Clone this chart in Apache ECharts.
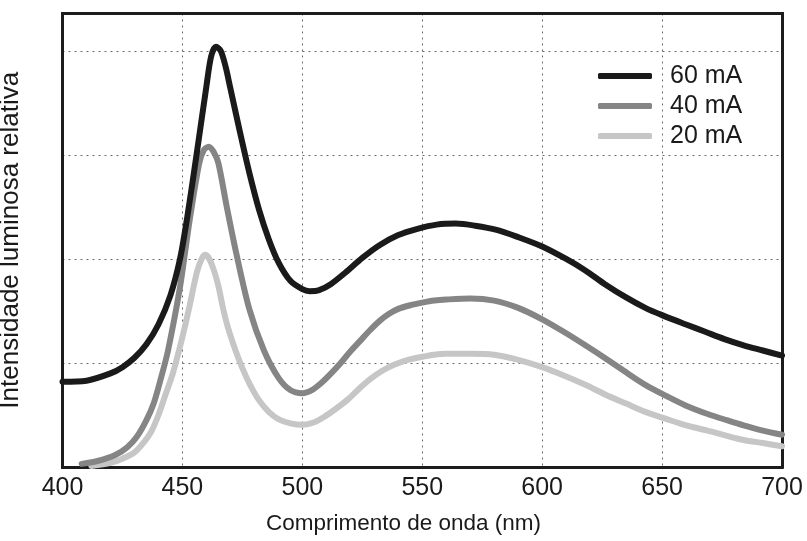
<!DOCTYPE html>
<html>
<head>
<meta charset="utf-8">
<title>Espectro de emissão</title>
<script src="https://cdn.jsdelivr.net/npm/echarts@6/dist/echarts.min.js"></script>
<style>
  html, body { margin: 0; padding: 0; background: #ffffff; }
  #chart { width: 807px; height: 541px; }
</style>
</head>
<body>
<div id="chart"></div>
<script>
// Wavelengths (nm) and relative intensities for each drive current
const wl60 = [400, 410, 420, 425, 430, 435, 440, 445, 449, 452, 456, 460, 462, 464, 466, 468, 470, 474, 478, 482, 486, 490, 495, 500, 503, 507, 512, 518, 525, 532, 540, 548, 556, 564, 572, 581, 590, 600, 610, 618, 626, 635, 643, 650, 660, 668, 676, 684, 692, 700];
const int60 = [0.82, 0.83, 0.90, 0.96, 1.05, 1.18, 1.37, 1.65, 2.00, 2.40, 3.02, 3.66, 3.95, 4.04, 4.00, 3.85, 3.64, 3.22, 2.82, 2.47, 2.19, 1.97, 1.79, 1.71, 1.69, 1.70, 1.76, 1.87, 2.01, 2.13, 2.23, 2.29, 2.33, 2.34, 2.32, 2.28, 2.21, 2.12, 2.00, 1.89, 1.76, 1.63, 1.53, 1.46, 1.37, 1.30, 1.23, 1.17, 1.12, 1.07];

const wl40 = [408, 415, 422, 427, 431, 435, 438, 441, 444, 449, 453, 457, 459, 461, 463, 465, 468.5, 472.5, 478, 484, 490, 495, 500, 504, 508, 512, 516, 520, 524, 528, 532, 536, 540, 545, 550, 555, 560, 570, 580, 590, 600, 609, 618, 626, 635, 643, 652, 660, 669, 677, 684, 692, 700];
const int40 = [0.03, 0.06, 0.115, 0.19, 0.29, 0.45, 0.61, 0.85, 1.12, 1.73, 2.37, 2.92, 3.05, 3.08, 3.03, 2.92, 2.50, 2.05, 1.51, 1.12, 0.86, 0.74, 0.71, 0.74, 0.81, 0.90, 1.00, 1.11, 1.21, 1.31, 1.40, 1.47, 1.52, 1.555, 1.58, 1.60, 1.61, 1.62, 1.60, 1.53, 1.42, 1.30, 1.17, 1.05, 0.91, 0.79, 0.68, 0.59, 0.51, 0.45, 0.40, 0.35, 0.31];

const wl20 = [412, 420, 425, 430, 434, 437, 440, 443, 446, 450, 453, 456, 458, 459.5, 461, 463, 465, 467, 469, 472, 475, 478, 482, 486, 490, 495, 500, 505, 509, 514, 519, 524, 528, 533, 538, 544, 550, 555, 560, 570, 580, 590, 600, 609, 618, 626, 635, 643, 652, 660, 669, 677, 684, 692, 700];
const int20 = [0.01, 0.04, 0.08, 0.14, 0.24, 0.34, 0.50, 0.70, 0.90, 1.25, 1.55, 1.87, 2.00, 2.04, 2.01, 1.90, 1.74, 1.52, 1.34, 1.13, 0.95, 0.80, 0.64, 0.53, 0.46, 0.42, 0.405, 0.43, 0.48, 0.56, 0.65, 0.76, 0.84, 0.92, 0.98, 1.03, 1.06, 1.08, 1.09, 1.09, 1.08, 1.03, 0.96, 0.88, 0.79, 0.70, 0.61, 0.53, 0.46, 0.40, 0.35, 0.30, 0.26, 0.23, 0.20];

const seriesNames = ['60 mA', '40 mA', '20 mA'];
const xTitle = 'Comprimento de onda (nm)';
const yTitle = 'Intensidade luminosa relativa';

const FONT = "'Liberation Sans', Arial, Helvetica, sans-serif";
const frameLine = { show: true, onZero: false, lineStyle: { color: '#1c1c1c', width: 3, cap: 'square' } };
const dotted = { show: true, lineStyle: { color: '#6a6a6a', width: 1, type: [2, 4] } };

function zip(xs, ys) { return xs.map((x, i) => [x, ys[i]]); }

function curve(name, xs, ys, color) {
  return {
    name: name,
    type: 'line',
    data: zip(xs, ys),
    smooth: 0.3,
    showSymbol: false,
    symbol: 'none',
    color: color,
    lineStyle: { color: color, width: 6, cap: 'round', join: 'round' }
  };
}

const chart = echarts.init(document.getElementById('chart'), null, { renderer: 'canvas' });
chart.setOption({
  animation: false,
  backgroundColor: '#ffffff',
  textStyle: { fontFamily: FONT },
  grid: { left: 62.5, right: 25, top: 13.5, bottom: 74, containLabel: false, outerBoundsMode: 'none' },
  xAxis: [
    {
      type: 'value', min: 400, max: 700, interval: 50, position: 'bottom',
      axisLine: frameLine, axisTick: { show: false },
      axisLabel: { fontSize: 25, color: '#1a1a1a', margin: 9, fontFamily: FONT },
      splitLine: dotted
    },
    {
      type: 'value', min: 400, max: 700, interval: 50, position: 'top',
      axisLine: frameLine, axisTick: { show: false }, axisLabel: { show: false }, splitLine: { show: false }
    }
  ],
  yAxis: [
    {
      type: 'value', min: 0, max: 4.36, interval: 1, position: 'left',
      name: yTitle, nameLocation: 'middle', nameGap: 39,
      nameTextStyle: { fontSize: 26, color: '#1a1a1a', fontFamily: FONT },
      axisLine: frameLine, axisTick: { show: false }, axisLabel: { show: false },
      splitLine: dotted
    },
    {
      type: 'value', min: 0, max: 4.36, interval: 1, position: 'right',
      axisLine: frameLine, axisTick: { show: false }, axisLabel: { show: false }, splitLine: { show: false }
    }
  ],
  legend: {
    orient: 'vertical', left: 598, top: 61, padding: 0, itemGap: 0,
    itemWidth: 54, itemHeight: 6, icon: 'roundRect',
    data: seriesNames,
    textStyle: { fontSize: 25, color: '#1a1a1a', fontFamily: FONT, lineHeight: 30, padding: [0, 0, 0, 13] }
  },
  graphic: [
    {
      type: 'text', left: 'center', top: 512,
      style: { text: xTitle, font: '22.5px ' + FONT, fill: '#1a1a1a' },
      x: -18
    }
  ],
  series: [
    curve(seriesNames[2], wl20, int20, '#c6c6c6'),
    curve(seriesNames[1], wl40, int40, '#858585'),
    curve(seriesNames[0], wl60, int60, '#1a1a1a')
  ]
});
</script>
</body>
</html>
